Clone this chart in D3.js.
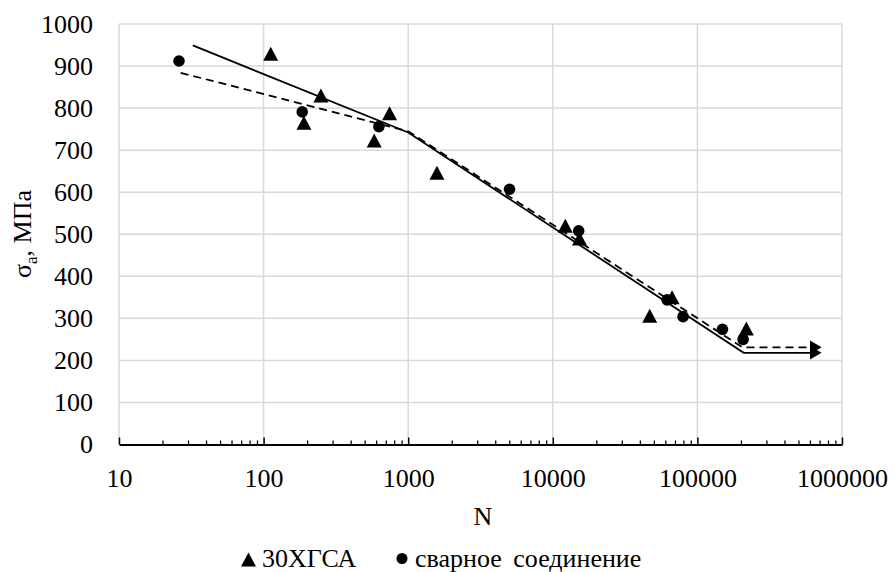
<!DOCTYPE html>
<html>
<head>
<meta charset="utf-8">
<script src="https://cdn.jsdelivr.net/npm/d3@7"></script>
<style>
  body { margin: 0; background: #fff; }
  svg text { font-family: 'Liberation Serif', 'DejaVu Serif', serif !important; fill: #000; }
</style>
</head>
<body>
<div class="chart"></div>
<script>
const width = 894;
const height = 572;
const margin = {top: 24, right: 52, bottom: 127.5, left: 119};
const serif = "'Liberation Serif', 'DejaVu Serif', serif";

// данные
const steelN = [112, 190, 249, 582, 743, 1580, 12200, 15300, 46800, 66800, 218000];
const steelS = [929, 765, 830, 723, 788, 646, 520, 490, 306, 350, 276];
const weldN = [26, 185, 627, 5020, 15100, 61700, 79600, 149000, 207000];
const weldS = [912, 791, 756, 607, 508, 344, 304, 274, 250];
// кривые усталости (ломаные со стрелкой)
const steelLineN = [32.4, 1000, 209000, 700000];
const steelLineS = [949, 742, 218, 218];
const weldLineN = [26.7, 1000, 205000, 700000];
const weldLineS = [884, 745, 231, 231];

const xTicks = [10, 100, 1000, 10000, 100000, 1000000];
const yTicks = [0, 100, 200, 300, 400, 500, 600, 700, 800, 900, 1000];
const legendNames = ["30ХГСА", "сварное соединение"];

const svg = d3.select(".chart").append("svg")
    .attr("width", width)
    .attr("height", height)
    .attr("viewBox", [0, 0, width, height])
    .attr("font-family", serif);

const x = d3.scaleLog()
    .domain([10, 1000000])
    .range([margin.left, width - margin.right]);
const y = d3.scaleLinear()
    .domain([0, 1000])
    .range([height - margin.bottom, margin.top]);

const triPath = "M0,-7 L7.5,7 L-7.5,7 Z";

// сетка
svg.append("g").selectAll("line").data(yTicks.slice(1))
    .enter().append("line")
    .attr("x1", x(10)).attr("x2", x(1000000))
    .attr("y1", d => y(d)).attr("y2", d => y(d))
    .attr("stroke", "#d9d9d9").attr("stroke-width", 1.5);
svg.append("g").selectAll("line").data(xTicks)
    .enter().append("line")
    .attr("x1", d => x(d)).attr("x2", d => x(d))
    .attr("y1", y(0)).attr("y2", y(1000))
    .attr("stroke", "#d9d9d9").attr("stroke-width", 1.5);

// промежуточные деления логарифмической оси
const minor = [];
for (let p = 10; p < 1000000; p *= 10) {
    for (let k = 2; k <= 9; k++) minor.push(k * p);
}
svg.append("g")
    .attr("transform", `translate(0,${y(0)})`)
    .call(d3.axisBottom(x).tickValues(minor).tickSizeInner(-4).tickSizeOuter(0).tickFormat(""))
    .call(g => g.select(".domain").remove())
    .call(g => g.selectAll("line").attr("stroke", "#000").attr("stroke-width", 1.3));

const xAxis = svg.append("g")
    .attr("transform", `translate(0,${y(0)})`)
    .call(d3.axisBottom(x).tickValues(xTicks).tickSizeInner(-7).tickSizeOuter(0)
        .tickPadding(24).tickFormat(d3.format("d")));
xAxis.attr("font-family", serif);
xAxis.select(".domain").attr("stroke", "#000").attr("stroke-width", 2);
xAxis.selectAll("line").attr("stroke", "#000").attr("stroke-width", 1.5);
xAxis.selectAll("text").attr("font-size", 26);

const yAxis = svg.append("g")
    .attr("transform", `translate(${x(10)},0)`)
    .call(d3.axisLeft(y).tickValues(yTicks).tickSize(0).tickPadding(26).tickFormat(d3.format("d")));
yAxis.attr("font-family", serif);
yAxis.select(".domain").remove();
yAxis.selectAll("text").attr("font-size", 26);

// стрелки
const defs = svg.append("defs");
defs.append("marker")
    .attr("id", "arrow")
    .attr("markerUnits", "userSpaceOnUse")
    .attr("viewBox", "0 -7 12 14")
    .attr("refX", 10).attr("refY", 0)
    .attr("markerWidth", 12).attr("markerHeight", 14)
    .attr("orient", "auto")
    .append("path")
    .attr("d", "M0,-7 L12,0 L0,7 Z")
    .attr("fill", "#000");

const line = d3.line().x(d => x(d[0])).y(d => y(d[1]));

svg.append("path")
    .datum(d3.zip(steelLineN, steelLineS))
    .attr("d", line)
    .attr("fill", "none").attr("stroke", "#000").attr("stroke-width", 1.8)
    .attr("marker-end", "url(#arrow)");
svg.append("path")
    .datum(d3.zip(weldLineN, weldLineS))
    .attr("d", line)
    .attr("fill", "none").attr("stroke", "#000").attr("stroke-width", 1.8)
    .attr("stroke-dasharray", "8,5")
    .attr("marker-end", "url(#arrow)");

// точки
svg.append("g").selectAll("path").data(d3.zip(steelN, steelS))
    .enter().append("path")
    .attr("d", triPath)
    .attr("transform", d => `translate(${x(d[0])},${y(d[1])})`)
    .attr("fill", "#000");
svg.append("g").selectAll("circle").data(d3.zip(weldN, weldS))
    .enter().append("circle")
    .attr("cx", d => x(d[0])).attr("cy", d => y(d[1]))
    .attr("r", 5.8)
    .attr("fill", "#000");

// подписи осей
svg.append("text")
    .attr("x", 483).attr("y", 525)
    .attr("text-anchor", "middle")
    .attr("font-size", 26)
    .text("N");

const yTitle = svg.append("text")
    .attr("transform", "translate(31,234) rotate(-90)")
    .attr("text-anchor", "middle")
    .attr("font-size", 26);
yTitle.append("tspan").text("σ");
yTitle.append("tspan").attr("font-size", 17).attr("dy", 6).text("a");
yTitle.append("tspan").attr("dy", -6).text(", МПа");

// легенда
const legend = svg.append("g");
legend.append("path")
    .attr("d", triPath)
    .attr("transform", "translate(248.5,559.5)")
    .attr("fill", "#000");
legend.append("text")
    .attr("x", 262).attr("y", 567)
    .attr("font-size", 26)
    .text(legendNames[0]);
legend.append("circle")
    .attr("cx", 402).attr("cy", 558.5).attr("r", 5.5)
    .attr("fill", "#000");
legend.append("text")
    .attr("x", 415).attr("y", 567)
    .attr("font-size", 26)
    .attr("word-spacing", 5)
    .text(legendNames[1]);
</script>
</body>
</html>
